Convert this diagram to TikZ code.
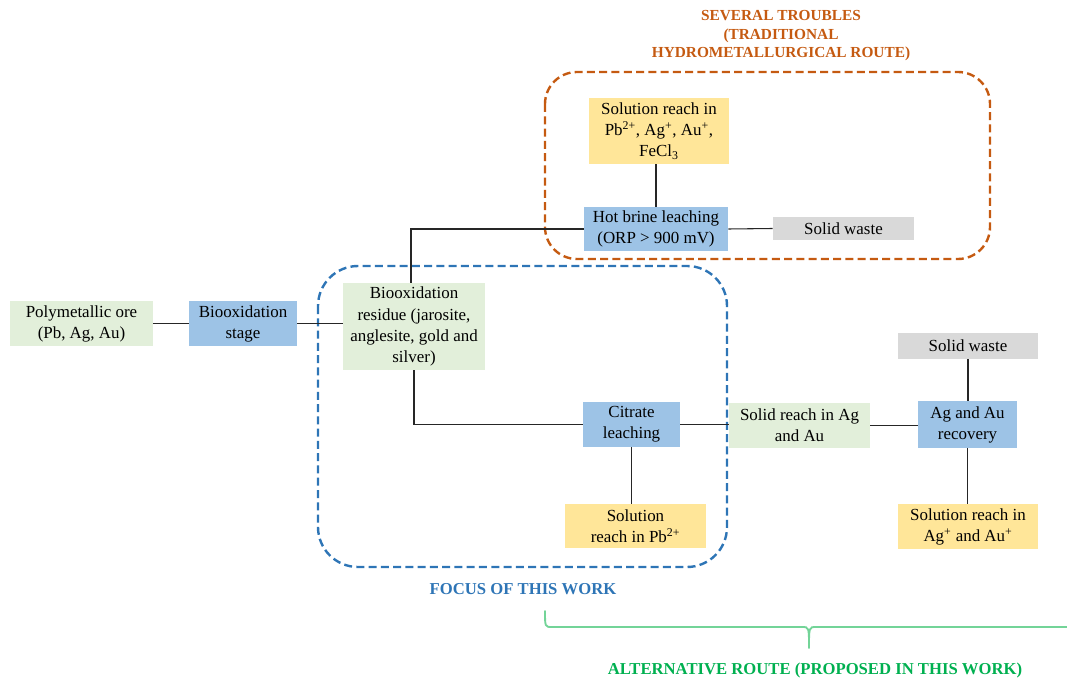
\documentclass[tikz,border=0pt]{standalone}
\usepackage{fontspec}
\setmainfont{Liberation Serif}
\definecolor{gfill}{HTML}{E2EFDA}
\definecolor{bfill}{HTML}{9DC3E6}
\definecolor{yfill}{HTML}{FFE699}
\definecolor{wfill}{HTML}{D9D9D9}
\definecolor{orng}{HTML}{C55A11}
\definecolor{blu}{HTML}{2E75B6}
\definecolor{grn}{HTML}{00B050}
\definecolor{brc}{RGB}{115,212,152}
\tikzset{
  px/.style 2 args={minimum width=#1*0.75pt, minimum height=#2*0.75pt},
  boxbase/.style={inner sep=1pt, align=center, font=\fontsize{12.7}{15.8}\selectfont, draw=none},
  gbox/.style={boxbase, fill=gfill},
  bbox/.style={boxbase, fill=bfill},
  ybox/.style={boxbase, fill=yfill},
  wbox/.style={boxbase, fill=wfill},
  conn/.style={draw=black!85, line width=0.8pt},
  region/.style={dashed, line width=1.8pt, dash pattern=on 6pt off 3.2pt},
  lab/.style={font=\fontsize{12.5}{14.2}\selectfont\bfseries, align=center},
  toplab/.style={font=\fontsize{11.5}{13.9}\selectfont\bfseries, align=center},
}
\begin{document}
\begin{tikzpicture}[x=0.75pt, y=-0.75pt]
\useasboundingbox (0,0) rectangle (1067,684);

% regions
\draw[region, draw=orng, rounded corners=24pt] (545,72) rectangle (990,259);
\draw[region, draw=blu, rounded corners=30pt] (318,266) rectangle (727,567);

% nodes
\node[gbox, px={143}{45}] (ore) at (81.5,323.5) {Polymetallic ore\\(Pb, Ag, Au)};
\node[bbox, px={108}{45}] (bstage) at (243,323.5) {Biooxidation\\stage};
\node[gbox, px={142}{87}] (residue) at (414,326.5) {Biooxidation\\residue (jarosite,\\anglesite, gold and\\silver)};
\node[bbox, px={144}{44}] (hot) at (656,229) {Hot brine leaching\\(ORP > 900 mV)};
\node[ybox, px={140}{66}] (solpb) at (659,131) {Solution reach in\\Pb\textsuperscript{2+}, Ag\textsuperscript{+}, Au\textsuperscript{+},\\FeCl\textsubscript{3}};
\node[wbox, px={141}{23}] (waste1) at (843.5,228.5) {Solid waste};
\node[bbox, px={97}{45}] (citrate) at (631.5,424.5) {Citrate\\leaching};
\node[ybox, px={141}{44}] (solpb2) at (635.5,526) {Solution\\reach in Pb\textsuperscript{2+}};
\node[gbox, px={141}{45}] (solid) at (799.5,425.5) {Solid reach in Ag\\and Au};
\node[bbox, px={99}{47}] (recov) at (967.5,424.5) {Ag and Au\\recovery};
\node[wbox, px={140}{26}] (waste2) at (968,346) {Solid waste};
\node[ybox, px={140}{45}] (solag) at (968,526.5) {Solution reach in\\Ag\textsuperscript{+} and Au\textsuperscript{+}};

% connectors
\draw[conn] (ore.east) -- (bstage.west);
\draw[conn] (bstage.east) -- (bstage.east -| residue.west);
\draw[conn] ([xshift=-2.25pt]residue.north) |- (hot.west);
\draw[conn] (residue.south) |- (citrate.west);
\draw[conn] (solpb.south -| hot.north) -- (hot.north);
\draw[conn] (hot.east) -- (waste1.west);
\draw[conn] (citrate.south) -- (citrate.south |- solpb2.north);
\draw[conn] (citrate.east) -- (citrate.east -| solid.west);
\draw[conn] (solid.east) -- (solid.east -| recov.west);
\draw[conn] (waste2.south) -- (waste2.south |- recov.north);
\draw[conn] (recov.south) -- (recov.south |- solag.north);

% labels
\node[toplab, text=orng] (tlab) at (781,36) {SEVERAL TROUBLES\\(TRADITIONAL\\HYDROMETALLURGICAL ROUTE)};
\node[lab, text=blu] (flab) at (523,589) {FOCUS OF THIS WORK};
\node[lab, text=grn] (alab) at (815,670) {ALTERNATIVE ROUTE (PROPOSED IN THIS WORK)};

% brace
\coordinate (bl) at (545,611);
\coordinate (bm) at (809,648);
\coordinate (br) at (1067,627);
\draw[brc, line width=1.4pt, line cap=round] (bl) .. controls (545,627) .. (552,627) -- (802,627) .. controls (809,627) .. (bm);
\draw[brc, line width=1.4pt] (bm) .. controls (809,627) .. (816,627) -- (br);
\end{tikzpicture}
\end{document}
